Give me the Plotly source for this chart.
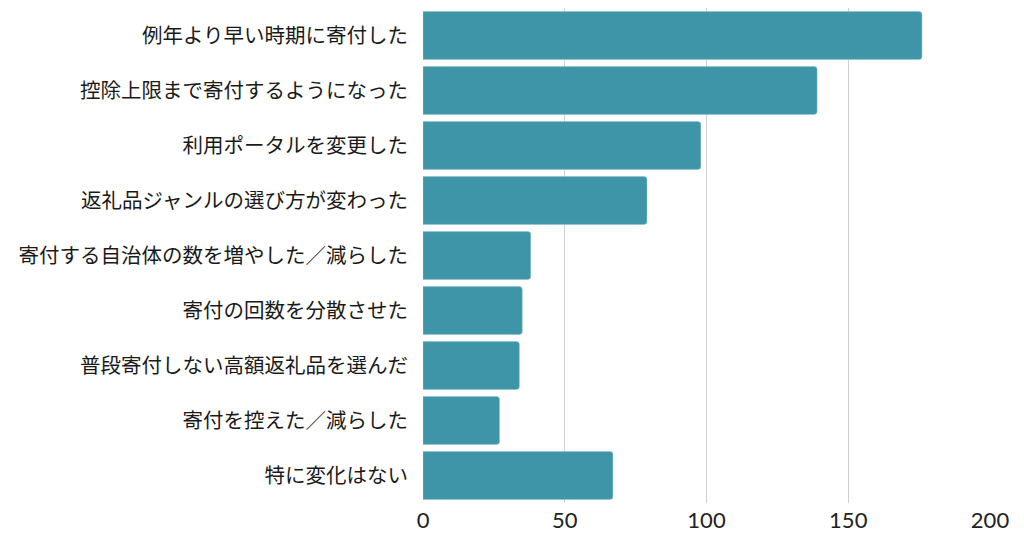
"""
Horizontal bar chart: changes in furusato nozei donation behaviour.
"""

import plotly.graph_objects as go

# Categories, top to bottom
categories = [
    "例年より早い時期に寄付した",
    "控除上限まで寄付するようになった",
    "利用ポータルを変更した",
    "返礼品ジャンルの選び方が変わった",
    "寄付する自治体の数を増やした／減らした",
    "寄付の回数を分散させた",
    "普段寄付しない高額返礼品を選んだ",
    "寄付を控えた／減らした",
    "特に変化はない",
]
counts = [176, 139, 98, 79, 38, 35, 34, 27, 67]
x_ticks = [0, 50, 100, 150, 200]

BAR_COLOR = "#3f95a8"

fig = go.Figure()

fig.add_trace(go.Bar(
    x=counts,
    y=categories,
    orientation="h",
    marker={
        "color": BAR_COLOR,
        "line": {"color": "#8cc0cc", "width": 0.5},
        "cornerradius": 3,
    },
    hoverinfo="x+y",
))

# the page body adds an 8px offset, margins account for it
fig.update_layout(
    width=1024,
    height=538,
    margin={"l": 415, "r": 42, "t": 0, "b": 43},
    paper_bgcolor="white",
    plot_bgcolor="white",
    bargap=0.13,
    showlegend=False,
    font={"family": "Noto Sans CJK JP", "size": 20, "color": "#222"},
)

fig.update_xaxes(
    range=[0, 200],
    tickvals=x_ticks,
    showgrid=True,
    gridcolor="#d0d0d0",
    gridwidth=1,
    zeroline=False,
    showline=False,
    tickfont={"family": "Lato", "size": 22, "color": "#222"},
    ticklabelstandoff=2,
)

fig.update_yaxes(
    categoryorder="array",
    categoryarray=categories[::-1],
    showgrid=False,
    showline=False,
    ticklabelstandoff=14,
    tickfont={"family": "Noto Sans CJK JP", "size": 20.5, "color": "#1a1a1a"},
)

fig.write_html("out.html")
